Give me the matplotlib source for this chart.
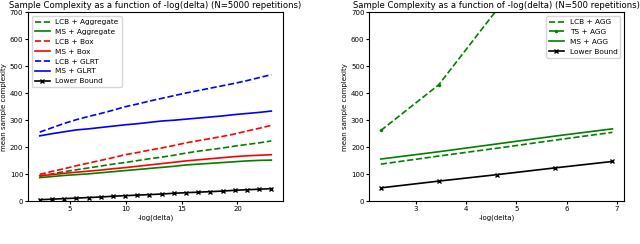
import matplotlib.pyplot as plt

# left panel: N=5000 repetitions
x_left = [2.30, 3.39, 4.48, 5.57, 6.67, 7.76, 8.85, 9.94, 11.03, 12.12,
          13.21, 14.30, 15.39, 16.48, 17.58, 18.67, 19.76, 20.85, 21.94, 23.03]
lcb_agg = [92, 101, 109, 116, 123, 130, 137, 143, 150, 157, 163, 170, 178, 185, 191, 197, 204, 210, 216, 223]
ms_agg = [87, 91, 95, 98, 101, 105, 109, 113, 117, 121, 125, 129, 134, 137, 140, 143, 146, 149, 151, 152]
lcb_box = [99, 110, 120, 131, 141, 151, 161, 172, 180, 189, 197, 206, 216, 224, 232, 240, 249, 260, 270, 281]
ms_box = [94, 98, 103, 107, 111, 115, 120, 124, 129, 134, 139, 144, 149, 153, 157, 161, 165, 168, 170, 172]
lcb_glrt = [256, 272, 288, 302, 314, 325, 337, 350, 360, 371, 381, 391, 401, 410, 419, 428, 437, 447, 458, 469]
ms_glrt = [242, 250, 257, 264, 268, 273, 278, 283, 287, 292, 297, 300, 304, 308, 312, 316, 321, 325, 329, 334]
lb_left = [5, 7, 9, 11, 13, 15, 18, 20, 22, 24, 26, 29, 31, 33, 35, 37, 40, 42, 44, 46]

# right panel: N=500 repetitions
x_right = [2.30, 3.45, 4.61, 5.76, 6.91]
lcb_agg_r = [137, 167, 196, 226, 255]
ts_agg_r = [262, 431, 710, 1050, 1450]
ms_agg_r = [156, 183, 212, 241, 268]
lb_right = [49, 74, 98, 123, 147]

fig = plt.figure(figsize=(6.4, 2.44), dpi=100)
ax1 = fig.add_axes([0.044, 0.176, 0.398, 0.773])
ax2 = fig.add_axes([0.577, 0.176, 0.398, 0.773])

fs = 5
lw = 1.2
ax1.plot(x_left, lcb_agg, color='g', linestyle='--', lw=lw, label='LCB + Aggregate')
ax1.plot(x_left, ms_agg, color='g', lw=lw, label='MS + Aggregate')
ax1.plot(x_left, lcb_box, color='r', linestyle='--', lw=lw, label='LCB + Box')
ax1.plot(x_left, ms_box, color='r', lw=lw, label='MS + Box')
ax1.plot(x_left, lcb_glrt, color='b', linestyle='--', lw=lw, label='LCB + GLRT')
ax1.plot(x_left, ms_glrt, color='b', lw=lw, label='MS + GLRT')
ax1.plot(x_left, lb_left, color='k', marker='x', ms=3, lw=lw, label='Lower Bound')
ax1.set_title('Sample Complexity as a function of -log(delta) (N=5000 repetitions)', fontsize=6.1, pad=3.5)
ax1.set_xticks([5, 10, 15, 20])

ax2.plot(x_right, lcb_agg_r, color='g', linestyle='--', lw=lw, label='LCB + AGG')
ax2.plot(x_right, ts_agg_r, color='g', linestyle='--', marker='.', ms=3, lw=lw, label='TS + AGG')
ax2.plot(x_right, ms_agg_r, color='g', lw=lw, label='MS + AGG')
ax2.plot(x_right, lb_right, color='k', marker='x', ms=3, lw=lw, label='Lower Bound')
ax2.set_title('Sample Complexity as a function of -log(delta) (N=500 repetitions)', fontsize=6.1, pad=3.5)
ax2.set_xticks([3, 4, 5, 6, 7])

for ax, loc in [(ax1, 'upper left'), (ax2, 'upper right')]:
    ax.set_ylim(0, 700)
    ax.set_xlabel('-log(delta)', fontsize=fs, labelpad=2)
    ax.set_ylabel('mean sample complexity', fontsize=fs, labelpad=2)
    ax.tick_params(labelsize=fs, length=2, pad=1.5)
    ax.legend(loc=loc, fontsize=5.3)

fig.savefig('out.png', dpi=100)
